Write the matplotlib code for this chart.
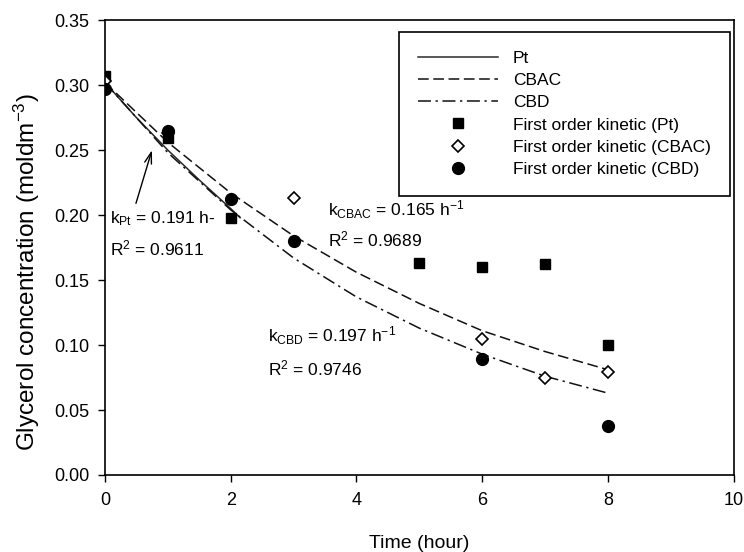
import matplotlib.pyplot as plt
import numpy as np

plt.rcParams['font.family'] = ['Liberation Sans', 'DejaVu Sans']
plt.rcParams['mathtext.fontset'] = 'custom'
plt.rcParams['mathtext.rm'] = 'Liberation Sans'
plt.rcParams['mathtext.it'] = 'Liberation Sans:italic'

# measured points
t_pt = [0, 1, 2, 5, 6, 7, 8]
c_pt = [0.307, 0.259, 0.198, 0.163, 0.160, 0.162, 0.100]
t_cbac = [0, 1, 3, 6, 7, 8]
c_cbac = [0.303, 0.263, 0.213, 0.105, 0.075, 0.079]
t_cbd = [0, 1, 2, 3, 6, 8]
c_cbd = [0.297, 0.265, 0.212, 0.180, 0.089, 0.038]

# fitted curves
fit_t_pt = [0, 0.5, 1, 1.5, 2, 2.15]
fit_c_pt = [0.302, 0.275, 0.250, 0.227, 0.205, 0.198]
fit_t_cbac = [0, 1, 2, 3, 4, 5, 6, 7, 8]
fit_c_cbac = [0.302, 0.256, 0.217, 0.184, 0.156, 0.132, 0.111, 0.095, 0.081]
fit_t_cbd = [0, 1, 2, 3, 4, 5, 6, 7, 8]
fit_c_cbd = [0.302, 0.248, 0.204, 0.167, 0.137, 0.113, 0.093, 0.076, 0.063]

fig = plt.figure(figsize=(7.44, 5.52), dpi=100)
ax = fig.add_axes([0.1411, 0.1395, 0.845, 0.824])

ax.plot(fit_t_pt, fit_c_pt, '-', color='#2a2a2a', lw=1.1, label='Pt')
ax.plot(fit_t_cbac, fit_c_cbac, '--', color='#111111', lw=1.1, dashes=(7, 3), label='CBAC')
ax.plot(fit_t_cbd, fit_c_cbd, '-.', color='#111111', lw=1.1, dashes=(8.5, 3, 1.5, 3), label='CBD')
ax.plot(t_pt, c_pt, 's', color='black', ms=7.5, ls='none', label='First order kinetic (Pt)')
ax.plot(t_cbac, c_cbac, 'D', mfc='white', mec='black', mew=1.2, ms=6.5, ls='none',
        label='First order kinetic (CBAC)')
ax.plot(t_cbd, c_cbd, 'o', color='black', ms=8.5, ls='none', label='First order kinetic (CBD)')

ax.set_xlim(0, 10)
ax.set_ylim(0, 0.35)
ax.set_xticks(np.arange(0, 11, 2))
ax.set_yticks(np.arange(0, 0.351, 0.05))
ax.yaxis.set_major_formatter(plt.FormatStrFormatter('%.2f'))
ax.tick_params(direction='out', length=5, width=1.0, labelsize=13)
ax.tick_params(axis='x', pad=7)
ax.tick_params(axis='y', pad=6)
for s in ax.spines.values():
    s.set_linewidth(1.2)

ax.set_xlabel('Time (hour)', fontsize=14, labelpad=19)
ax.set_ylabel('Glycerol concentration (moldm$^{-3}$)', fontsize=17.5)
ax.yaxis.set_label_coords(-0.100, 0.446)

fs = 12.5
ax.text(0.08, 0.197, 'k$_{\\mathrm{Pt}}$ = 0.191 h-', fontsize=fs, va='center')
ax.text(0.08, 0.174, 'R$^2$ = 0.9611', fontsize=fs, va='center')
ax.annotate('', xy=(0.76, 0.252), xytext=(0.48, 0.207),
            arrowprops=dict(arrowstyle='->,head_length=0.8,head_width=0.25',
                            color='black', lw=1.0))
ax.text(3.54, 0.204, 'k$_{\\mathrm{CBAC}}$ = 0.165 h$^{-1}$', fontsize=fs, va='center')
ax.text(3.54, 0.181, 'R$^2$ = 0.9689', fontsize=fs, va='center')
ax.text(2.60, 0.107, 'k$_{\\mathrm{CBD}}$ = 0.197 h$^{-1}$', fontsize=fs, va='center')
ax.text(2.60, 0.082, 'R$^2$ = 0.9746', fontsize=fs, va='center')

leg = ax.legend(loc='upper right', bbox_to_anchor=(0.994, 0.974), fontsize=12.5,
                frameon=True, fancybox=False, edgecolor='black', framealpha=1,
                handlelength=4.6, labelspacing=0.4, borderpad=1.1,
                handletextpad=0.85, borderaxespad=0)
leg.get_frame().set_linewidth(1.2)

fig.savefig('out.png', dpi=100)
